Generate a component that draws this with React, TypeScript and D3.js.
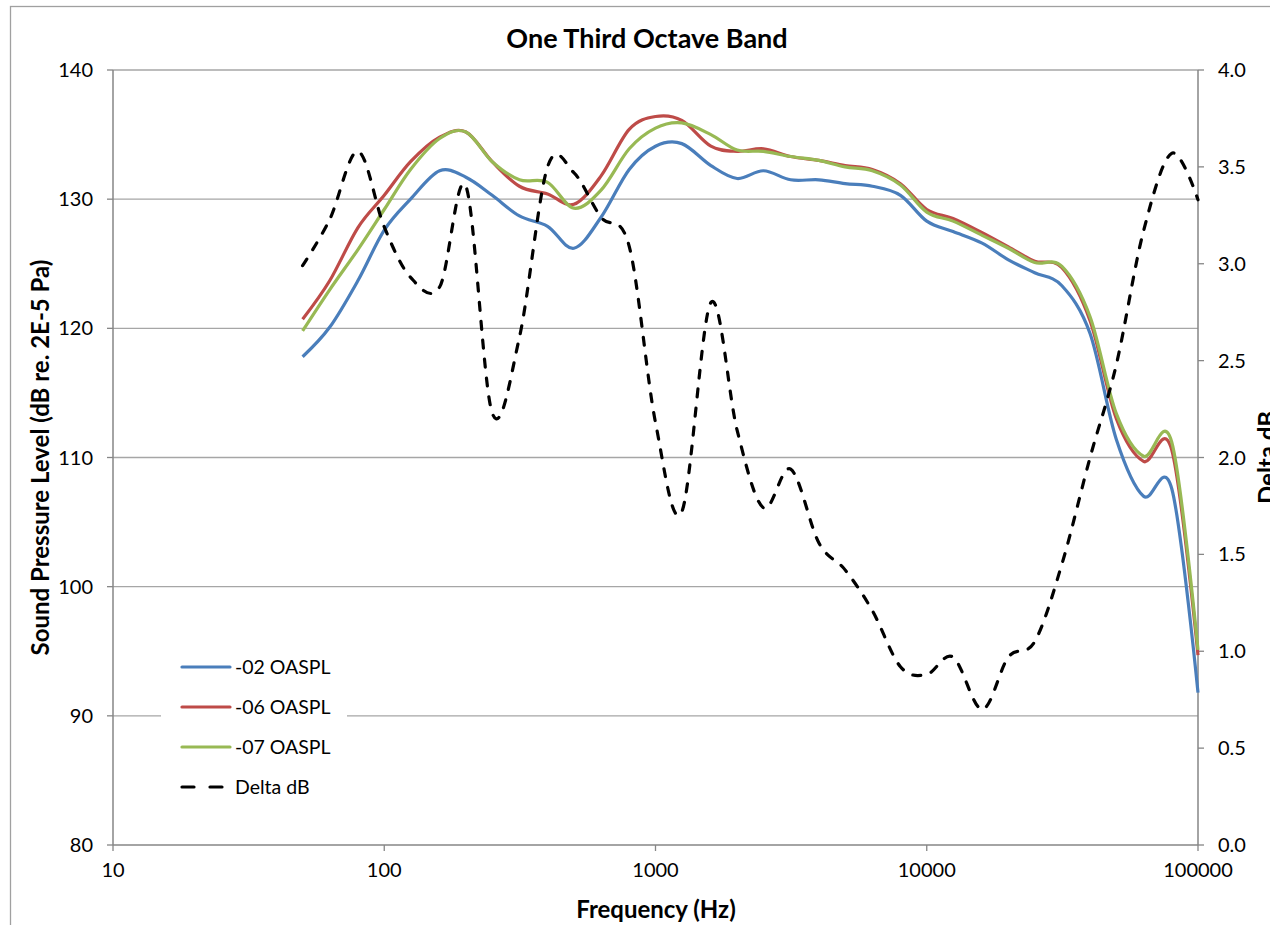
import React from "react";
import * as d3 from "d3";

// One-third octave band centre frequencies (Hz)
const freqs = [
  50, 63, 80, 100, 125, 160, 200, 250, 315, 400, 500, 630, 800, 1000, 1250,
  1600, 2000, 2500, 3150, 4000, 5000, 6300, 8000, 10000, 12500, 16000, 20000,
  25000, 31500, 40000, 50000, 63000, 80000, 100000,
];

// Sound pressure level, dB re. 2E-5 Pa
const spl02 = [
  117.8, 120.1, 123.7, 127.6, 130.0, 132.2, 131.7, 130.3, 128.7, 127.9, 126.2,
  128.6, 132.3, 134.1, 134.3, 132.6, 131.6, 132.2, 131.5, 131.5, 131.2, 131.0,
  130.3, 128.3, 127.5, 126.6, 125.3, 124.3, 123.3, 119.6, 111.4, 107.0, 107.6,
  91.8,
];
const spl06 = [
  120.7, 123.7, 127.8, 130.3, 132.9, 134.8, 135.2, 132.9, 131.0, 130.4, 129.6,
  131.8, 135.4, 136.4, 136.1, 134.1, 133.7, 133.9, 133.3, 133.0, 132.6, 132.3,
  131.2, 129.2, 128.5, 127.4, 126.3, 125.2, 124.7, 120.6, 113.0, 109.7, 110.6,
  94.7,
];
const spl07 = [
  119.8, 123.0, 126.1, 129.2, 132.3, 134.7, 135.2, 132.9, 131.5, 131.3, 129.3,
  130.7, 133.9, 135.5, 135.9, 135.0, 133.8, 133.7, 133.3, 133.0, 132.5, 132.2,
  131.1, 129.0, 128.3, 127.2, 126.2, 125.1, 124.8, 120.9, 113.4, 110.1, 111.2,
  95.1,
];
// Delta dB (secondary axis)
const delta = [
  2.99, 3.23, 3.58, 3.19, 2.93, 2.88, 3.4, 2.23, 2.62, 3.5, 3.47, 3.24, 3.09,
  2.18, 1.72, 2.8, 2.14, 1.74, 1.94, 1.56, 1.42, 1.21, 0.92, 0.88, 0.97, 0.7,
  0.97, 1.05, 1.45, 2.0, 2.48, 3.17, 3.57, 3.33,
];

const xTicks = [10, 100, 1000, 10000, 100000];
const yTicks = [80, 90, 100, 110, 120, 130, 140];
const y2Ticks = [0, 0.5, 1, 1.5, 2, 2.5, 3, 3.5, 4];

const seriesNames = ["-02 OASPL", "-06 OASPL", "-07 OASPL", "Delta dB"];
const seriesColors = ["#4A7EBB", "#BE4B48", "#98B954", "#000000"];

const W = 1270;
const H = 925;
const left = 113;
const right = 1198;
const top = 70;
const bottom = 845;
const FONT = "Lato, 'Open Sans', sans-serif";

export default function App() {
  const x = d3.scaleLog().domain([10, 100000]).range([left, right]);
  const y = d3.scaleLinear().domain([80, 140]).range([bottom, top]);
  const y2 = d3.scaleLinear().domain([0, 4]).range([bottom, top]);

  const curve = d3.curveCardinal.tension(0);
  const splLine = d3
    .line<number>()
    .x((_, i) => x(freqs[i]))
    .y((v) => y(v))
    .curve(curve);
  const deltaLine = d3
    .line<number>()
    .x((_, i) => x(freqs[i]))
    .y((v) => y2(v))
    .curve(curve);

  const splSeries = [spl02, spl06, spl07];
  const gridColor = "#a6a6a6";
  const axisColor = "#868686";

  const legendX = 182;
  const legendY0 = 667;
  const legendStep = 40;
  const tickFont = 20;

  return (
    <svg
      width={W}
      height={H}
      style={{ position: "absolute", left: 0, top: 0, background: "#fff" }}
      fontFamily={FONT}
    >
      <rect x={0} y={0} width={W} height={H} fill="#fff" />
      {/* chart area border */}
      <rect
        x={10.5}
        y={6.5}
        width={1400}
        height={1100}
        fill="none"
        stroke="#a0a0a0"
        strokeWidth={1.3}
      />

      {/* horizontal gridlines */}
      {yTicks.slice(1).map((t) => (
        <line
          key={"g" + t}
          x1={left}
          x2={right}
          y1={y(t)}
          y2={y(t)}
          stroke={gridColor}
          strokeWidth={1.3}
        />
      ))}

      {/* axes */}
      <line x1={left} x2={left} y1={top} y2={bottom} stroke={axisColor} strokeWidth={1.5} />
      <line x1={right} x2={right} y1={top} y2={bottom} stroke={axisColor} strokeWidth={1.5} />
      <line x1={left} x2={right} y1={bottom} y2={bottom} stroke={axisColor} strokeWidth={1.5} />

      {yTicks.map((t) => (
        <g key={"yt" + t}>
          <line x1={left - 6} x2={left} y1={y(t)} y2={y(t)} stroke={axisColor} strokeWidth={1.3} />
          <text x={93} y={y(t) + 7} textAnchor="end" fontSize={tickFont} fill="#000">
            {t}
          </text>
        </g>
      ))}
      {y2Ticks.map((t) => (
        <g key={"y2t" + t}>
          <line x1={right} x2={right + 6} y1={y2(t)} y2={y2(t)} stroke={axisColor} strokeWidth={1.3} />
          <text x={1218} y={y2(t) + 7} textAnchor="start" fontSize={tickFont} fill="#000">
            {t.toFixed(1)}
          </text>
        </g>
      ))}
      {xTicks.map((t) => (
        <g key={"xt" + t}>
          <line x1={x(t)} x2={x(t)} y1={bottom} y2={bottom + 6} stroke={axisColor} strokeWidth={1.3} />
          <text x={x(t)} y={877} textAnchor="middle" fontSize={tickFont} fill="#000">
            {t}
          </text>
        </g>
      ))}

      {/* SPL series */}
      {splSeries.map((s, i) => (
        <path
          key={"s" + i}
          d={splLine(s) || ""}
          fill="none"
          stroke={seriesColors[i]}
          strokeWidth={3.2}
          strokeLinejoin="round"
        />
      ))}
      {/* Delta dB series */}
      <path
        d={deltaLine(delta) || ""}
        fill="none"
        stroke="#000"
        strokeWidth={3.2}
        strokeDasharray="8 11"
        strokeLinecap="round"
      />

      {/* titles */}
      <text x={647} y={48} textAnchor="middle" fontSize={27} fontWeight="bold" fill="#000">
        One Third Octave Band
      </text>
      <text x={656} y={918} textAnchor="middle" fontSize={24} fontWeight="bold" fill="#000">
        Frequency (Hz)
      </text>
      <text
        transform={`translate(49, ${(top + bottom) / 2}) rotate(-90)`}
        textAnchor="middle"
        fontSize={24}
        fontWeight="bold"
        fill="#000"
      >
        Sound Pressure Level (dB re. 2E-5 Pa)
      </text>
      <text
        transform={`translate(1276, ${(top + bottom) / 2}) rotate(-90)`}
        textAnchor="middle"
        fontSize={24}
        fontWeight="bold"
        fill="#000"
      >
        Delta dB
      </text>

      {/* legend */}
      <rect x={161} y={645} width={186} height={162} fill="#fff" />
      {seriesNames.map((name, i) => {
        const ly = legendY0 + i * legendStep;
        return (
          <g key={"l" + i}>
            {i < 3 ? (
              <line
                x1={legendX}
                x2={legendX + 48}
                y1={ly}
                y2={ly}
                stroke={seriesColors[i]}
                strokeWidth={3.2}
                strokeLinecap="round"
              />
            ) : (
              <line
                x1={legendX}
                x2={legendX + 42}
                y1={ly}
                y2={ly}
                stroke="#000"
                strokeWidth={3.2}
                strokeDasharray="12 16"
                strokeLinecap="round"
              />
            )}
            <text x={235} y={ly + 7} fontSize={19.5} fill="#000">
              {name}
            </text>
          </g>
        );
      })}
    </svg>
  );
}
